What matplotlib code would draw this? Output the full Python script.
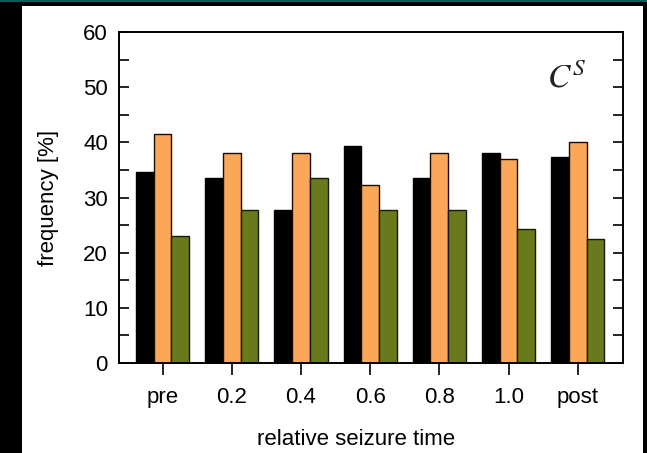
import matplotlib
matplotlib.use("Agg")
import matplotlib.pyplot as plt
import numpy as np
from matplotlib.patches import Rectangle

categories = ["pre", "0.2", "0.4", "0.6", "0.8", "1.0", "post"]
black_vals = [34.7, 33.6, 27.7, 39.3, 33.6, 38.1, 37.4]
orange_vals = [41.5, 38.0, 38.0, 32.3, 38.0, 37.0, 40.1]
green_vals = [23.1, 27.7, 33.6, 27.7, 27.7, 24.2, 22.4]
y_ticks = [0, 10, 20, 30, 40, 50, 60]

plt.rcParams["font.family"] = ["Liberation Sans", "DejaVu Sans"]
FS = 16

fig = plt.figure(figsize=(6.47, 4.53), dpi=100, facecolor="black")
# white panel and thin teal strip on the dark frame
fig.patches.append(Rectangle((22 / 647, 0), (643 - 22) / 647, (453 - 6) / 453,
                             transform=fig.transFigure, facecolor="white",
                             edgecolor="none", zorder=-5))
fig.patches.append(Rectangle((0, 1 - 1.8 / 453), 1, 1.8 / 453,
                             transform=fig.transFigure, facecolor="#0b5c5c",
                             edgecolor="none", zorder=-5))

ax = fig.add_axes([119 / 647, (453 - 363) / 453, 504 / 647, 331 / 453])
ax.set_facecolor("white")

x = np.arange(len(categories))
w = 0.256
ax.bar(x - w, black_vals, w, color="black", edgecolor="black", linewidth=1.0)
ax.bar(x, orange_vals, w, color="#fba75a", edgecolor="#1a0a00", linewidth=1.0)
ax.bar(x + w, green_vals, w, color="#687a1b", edgecolor="#1a1a00", linewidth=1.0)

ax.set_xlim(-0.63, 6.655)
ax.set_ylim(0, 60)
ax.set_xticks(x)
ax.set_xticklabels(categories)
ax.set_yticks(y_ticks)
ax.set_yticks(np.arange(5, 60, 10), minor=True)
ax.tick_params(axis="y", which="both", direction="in", length=7.5, width=1.2,
               right=True, labelsize=FS, pad=8, colors="black")
ax.tick_params(axis="x", direction="out", length=8.5, width=1.2, labelsize=FS,
               pad=9)
for s in ax.spines.values():
    s.set_linewidth(1.4)

ax.set_xlabel("relative seizure time", fontsize=FS, labelpad=15)
ax.xaxis.label.set_x(0.47)
ax.set_ylabel("frequency [%]", fontsize=FS, labelpad=17)
ax.text(0.888, 0.86, r"$C^S$", transform=ax.transAxes, fontsize=24,
        ha="center", va="center", math_fontfamily="stix", color="#222222")

fig.savefig("out.png", dpi=100, facecolor=fig.get_facecolor())
